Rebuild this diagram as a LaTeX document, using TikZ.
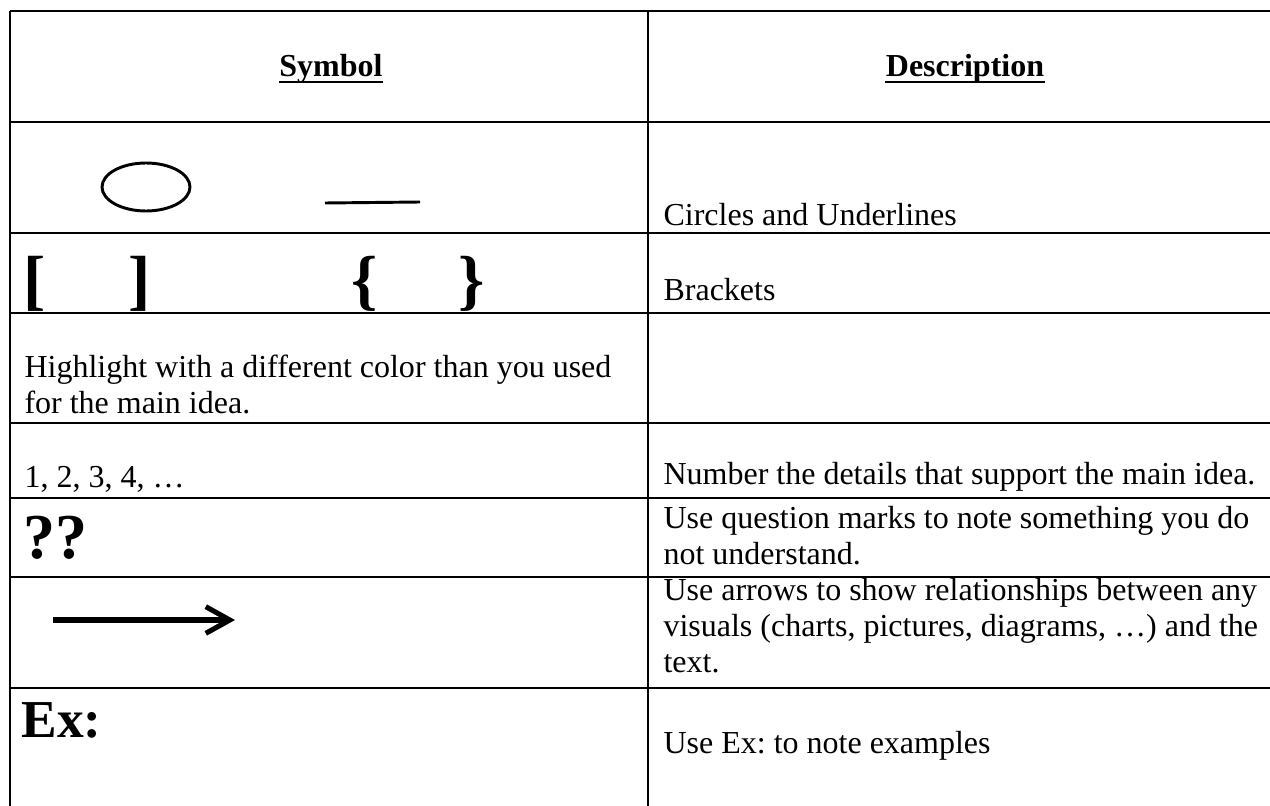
\documentclass[tikz,border=0pt]{standalone}
\usepackage{fontspec}
\setmainfont{Liberation Serif}
\usetikzlibrary{arrows.meta,backgrounds}
\newcommand{\cellfont}{%
    \fontsize{12}{13.5}\selectfont\frenchspacing
}
\newcommand{\symfont}[1]{%
    \fontsize{#1}{#1}\selectfont\bfseries
}

\begin{document}
\begin{tikzpicture}[x=0.375pt, y=-0.375pt,
    background rectangle/.style={fill=white}, show background rectangle, tight background,
    rule/.style={line width=0.75pt},
    pen/.style={line width=1.1pt},
    celltext/.style={anchor=base west, inner sep=0pt, align=left, font=\cellfont},
    header/.style={anchor=base, inner sep=0pt, font=\cellfont\bfseries}]
    \useasboundingbox (0,0) rectangle (1270,806);

    % table rules
    \draw[rule] (10,11) -- (1270,11);
    \foreach \y in {122,233,313,423,498,577,688}
        \draw[rule] (10,\y) -- (1270,\y);
    \draw[rule] (10,11) -- (10,806);
    \draw[rule] (648,11) -- (648,806);

    % header row
    \node[header] (hsym) at (331,77) {Symbol};
    \node[header] (hdesc) at (965,77) {Description};
    \draw[line width=0.8pt] ([yshift=-2pt]hsym.base west) -- ([yshift=-2pt]hsym.base east);
    \draw[line width=0.8pt] ([yshift=-2pt]hdesc.base west) -- ([yshift=-2pt]hdesc.base east);

    % symbol column
    \draw[pen] (146,187) ellipse [x radius=44, y radius=24];
    \draw[pen] (325,203) -- (420,202);
    \node[anchor=base, inner sep=0pt, font=\symfont{25}] (lbrack) at (35,302) {[};
    \node[anchor=base, inner sep=0pt, font=\symfont{25}] (rbrack) at (140,302) {]};
    \node[anchor=base, inner sep=0pt, font=\symfont{25}] (lbrace) at (365,302) {\{};
    \node[anchor=base, inner sep=0pt, font=\symfont{25}] (rbrace) at (472,302) {\}};
    % (base of a two-line cell is its last line)
    \node[celltext] (hilite) at (24,413) {Highlight with a different color than you used\\for the main idea.};
    \node[celltext] (nums) at (24,487) {1, 2, 3, 4, …};
    \node[anchor=base west, inner sep=0pt, font=\symfont{24}] (qmarks) at (23,558) {??};
    \coordinate (arrowstart) at (53,620);
    \coordinate (arrowend) at (235,620);
    \draw[line width=1.9pt, -{Straight Barb[length=9pt, width=10pt]}] (arrowstart) -- (arrowend);
    \node[anchor=base west, inner sep=0pt, font=\symfont{20}] (ex) at (21,737) {Ex:};

    % description column
    \node[celltext] (circdesc) at (663,226) {Circles and Underlines};
    \node[celltext] (brackdesc) at (663,300) {Brackets};
    \node[celltext] (numdesc) at (663,484) {Number the details that support the main idea.};
    \node[celltext] (qdesc) at (663,564) {Use question marks to note something you do\\not understand.};
    \node[celltext] (arrowdesc) at (663,672) {Use arrows to show relationships between any\\visuals (charts, pictures, diagrams, …) and the\\text.};
    \node[celltext] (exdesc) at (663,753) {Use Ex: to note examples};
\end{tikzpicture}
\end{document}
